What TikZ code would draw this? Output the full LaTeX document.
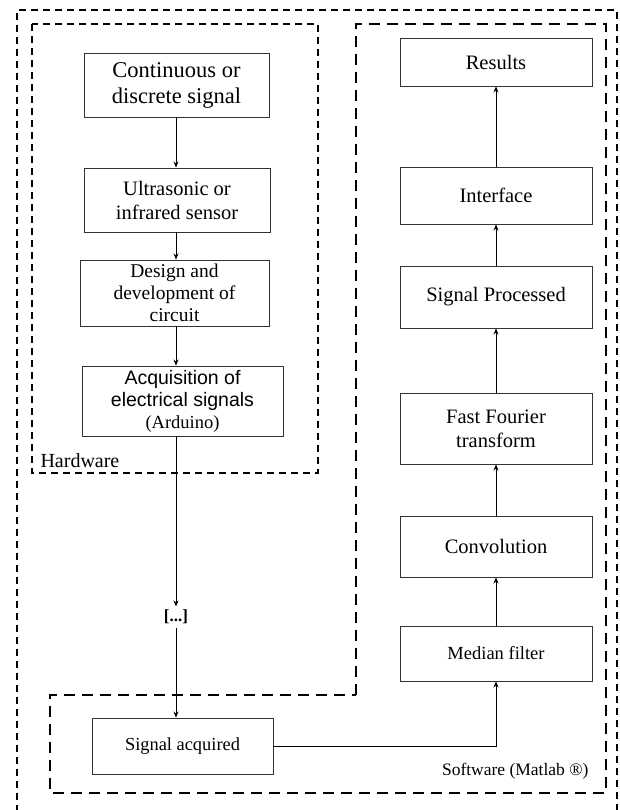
\documentclass[tikz,border=0pt]{standalone}
\usepackage{fontspec}
\setmainfont{Liberation Serif}
\newfontfamily\arialf{Liberation Sans}
\usetikzlibrary{arrows.meta}
\begin{document}
\begin{tikzpicture}[x=1pt,y=-1pt,
  blk/.style={draw=black!80,line width=0.9pt,inner sep=1pt,align=center,font=\fontsize{18}{22}\selectfont},
  arr/.style={draw=black,line width=0.8pt,-{Stealth[length=6pt,width=5pt]}},
  thindash/.style={draw=black,line width=1.4pt,dash pattern=on 7pt off 5pt},
  thickdash/.style={draw=black,line width=2.6pt,dash pattern=on 11pt off 7pt}]
\useasboundingbox (0,0) rectangle (619,810);
\fill[white] (0,0) rectangle (619,810);
% outer frame
\draw[thindash] (17,812) -- (17,10) -- (617,10) -- (617,812);
% hardware frame
\draw[thindash] (32,24) rectangle (318,473);
\node[anchor=west,font=\fontsize{20}{24}\selectfont] (hw) at (37,461) {Hardware};
% software frame
\draw[thickdash] (356,695) -- (356,24) -- (606,24) -- (606,793) -- (50,793) -- (50,695) -- cycle;
\node[anchor=east,font=\fontsize{17.5}{21}\selectfont] (sw) at (592,771) {Software (Matlab \textregistered)};
% left column
\coordinate (lc) at (176,0);
\node[blk,minimum width=185pt,minimum height=64pt,font=\fontsize{22.5}{26}\selectfont] (cont) at (176.5,85) {Continuous or\\discrete signal};
\node[blk,minimum width=186pt,minimum height=64pt,font=\fontsize{20.5}{24}\selectfont] (ultra) at (177,200) {Ultrasonic or\\infrared sensor};
\node[blk,minimum width=189pt,minimum height=66pt,font=\fontsize{19.5}{22}\selectfont] (design) at (174.5,293) {Design and\\development of\\circuit};
\node[blk,minimum width=201pt,minimum height=70pt,font=\arialf\fontsize{19.5}{22}\selectfont] (acq) at (182.5,401) {Acquisition of\\electrical signals\\\rmfamily\fontsize{18.5}{22}\selectfont (Arduino)};
\node[font=\bfseries\fontsize{17}{20}\selectfont] (dots) at (176,617) {[...]};
\node[blk,minimum width=181pt,minimum height=56pt,font=\fontsize{18.4}{22}\selectfont] (sacq) at (182.5,746) {Signal acquired};
% right column
\node[blk,minimum width=192pt,minimum height=48pt,font=\fontsize{20.5}{24}\selectfont] (res) at (496,62) {Results};
\node[blk,minimum width=192pt,minimum height=57pt,font=\fontsize{20.5}{24}\selectfont] (intf) at (496,195.5) {Interface};
\node[blk,minimum width=192pt,minimum height=62pt,font=\fontsize{20.5}{24}\selectfont] (sp) at (496,297) {Signal Processed};
\node[blk,minimum width=192pt,minimum height=71pt,font=\fontsize{20.5}{24}\selectfont] (fft) at (496,428.5) {Fast Fourier\\transform};
\node[blk,minimum width=192pt,minimum height=61pt,font=\fontsize{20.5}{24}\selectfont] (conv) at (496,546.5) {Convolution};
\node[blk,minimum width=192pt,minimum height=55pt,font=\fontsize{18.5}{22}\selectfont] (med) at (496,653.5) {Median filter};
% arrows
\draw[arr] (cont.south -| lc) -- (ultra.north -| lc);
\draw[arr] (ultra.south -| lc) -- (design.north -| lc);
\draw[arr] (design.south -| lc) -- (acq.north -| lc);
\draw[arr] (acq.south -| lc) -- (dots.north);
\draw[arr] (dots.south) -- (sacq.north -| lc);
\draw[arr] (sacq.east) -| (med.south);
\draw[arr] (med) -- (conv);
\draw[arr] (conv) -- (fft);
\draw[arr] (fft) -- (sp);
\draw[arr] (sp) -- (intf);
\draw[arr] (intf) -- (res);
\end{tikzpicture}
\end{document}
